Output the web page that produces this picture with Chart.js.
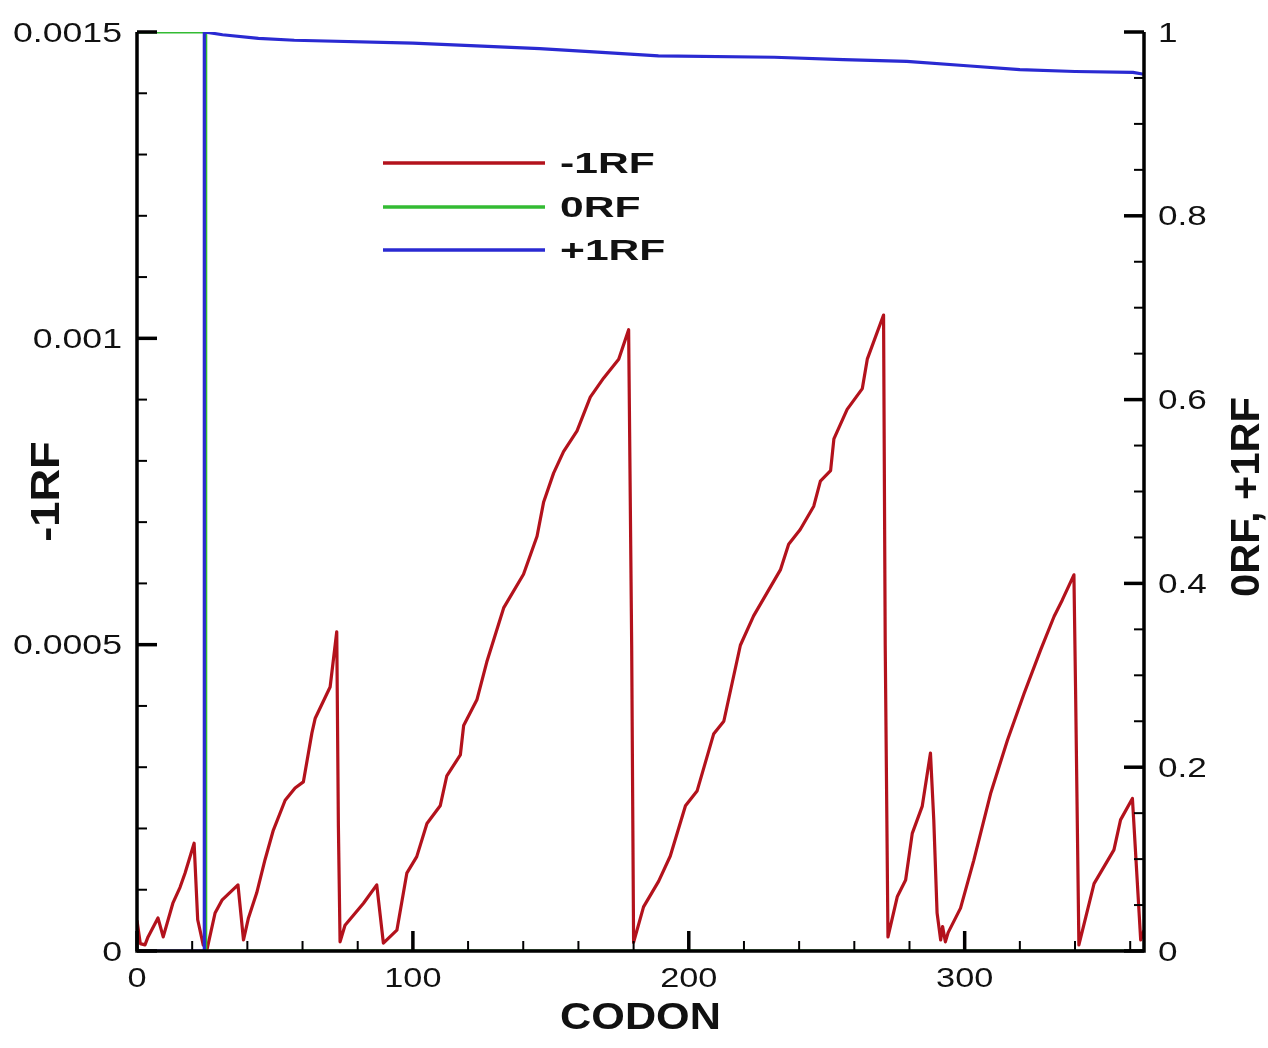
<!DOCTYPE html>
<html>
<head>
<meta charset="utf-8">
<title>CODON</title>
<script src="https://cdn.jsdelivr.net/npm/chart.js@4/dist/chart.umd.min.js"></script>
<style>
    html, body { margin: 0; padding: 0; background: #ffffff; }
    #contenedor { width: 1268px; height: 1048px; position: relative; }
</style>
</head>
<body>
<div id="contenedor"><canvas id="grafico"></canvas></div>
<script>
// Datos (codon, valor)
const codonMenos1 = [0, 1.2, 2.9, 4, 7.6, 9.5, 13, 15.6, 17.4, 20.7, 22, 24, 25.4, 28.3, 30.8, 36.6, 38.6, 40.4, 43.4, 46.4,
    49.4, 53.7, 57.3, 60.3, 63.4, 64.6, 70, 72.4, 73, 73.6, 75.4, 82.1, 86.9, 89.3, 94.2, 97.8, 101.4, 105.1, 109.9, 112.3,
    117.2, 118.4, 123.2, 126.8, 132.9, 140.1, 145, 147.4, 151, 154.6, 159.5, 164.3, 169.1, 174.6, 178.2, 179.3, 180, 183.6,
    189.1, 193.3, 198.8, 203, 209, 212.7, 218.7, 223.5, 233.2, 236.2, 240.4, 245.3, 247.7, 251.4, 252.6, 257.4, 262.9, 264.7,
    270.6, 271.2, 272.2, 275.6, 278.6, 281, 284.6, 287.6, 288.8, 290, 291.3, 292, 293, 294, 298.5, 303.3, 309.4, 315.5,
    321.5, 327.5, 332.4, 335.4, 339.6, 340.2, 341.4, 346.9, 354.1, 356.5, 360.8, 363.8, 365];
const valorMenos1 = [0.000050, 0.000012, 0.000010, 0.000023, 0.000054, 0.000023, 0.000078, 0.000104, 0.000127, 0.000176,
    0.000051, 0.000010, 0.000003, 0.000062, 0.000083, 0.000108, 0.000018, 0.000054, 0.000095, 0.000149,
    0.000197, 0.000246, 0.000266, 0.000276, 0.000356, 0.000380, 0.000431, 0.000521, 0.000203, 0.000015,
    0.000042, 0.000078, 0.000108, 0.000013, 0.000034, 0.000127, 0.000154, 0.000208, 0.000237, 0.000286,
    0.000320, 0.000368, 0.000410, 0.000472, 0.000560, 0.000615, 0.000677, 0.000733, 0.000780, 0.000815,
    0.000849, 0.000904, 0.000935, 0.000966, 0.001014, 0.000500, 0.000014, 0.000072, 0.000114, 0.000155,
    0.000237, 0.000261, 0.000354, 0.000375, 0.000499, 0.000547, 0.000622, 0.000664, 0.000688, 0.000726,
    0.000767, 0.000784, 0.000836, 0.000884, 0.000918, 0.000966, 0.001038, 0.000500, 0.000023, 0.000089,
    0.000116, 0.000192, 0.000236, 0.000323, 0.000214, 0.000062, 0.000018, 0.000040, 0.000015, 0.000030,
    0.000070, 0.000148, 0.000257, 0.000344, 0.000420, 0.000491, 0.000546, 0.000573, 0.000614, 0.000426,
    0.000010, 0.000110, 0.000165, 0.000214, 0.000249, 0.000018, 0.000034];

const codonCero = [0, 24.8, 24.9, 365];
const valorCero = [1, 1, 0, 0];

const codonMas1 = [0, 24.3, 24.4, 31, 44, 57, 100, 146, 167, 189, 231, 256, 279, 302, 320, 340, 361, 365];
const valorMas1 = [0, 0, 1, 0.997, 0.993, 0.991, 0.988, 0.982, 0.978, 0.974, 0.9725, 0.970, 0.968, 0.963, 0.959, 0.957, 0.956, 0.954];

const nombresSeries = ['-1RF', '0RF', '+1RF'];
const ticksCodon = [0, 100, 200, 300];
const etiquetasCodon = ['0', '100', '200', '300'];
const ticksIzq = [0, 0.0005, 0.001, 0.0015];
const etiquetasIzq = ['0', '0.0005', '0.001', '0.0015'];
const ticksDer = [0, 0.2, 0.4, 0.6, 0.8, 1];
const etiquetasDer = ['0', '0.2', '0.4', '0.6', '0.8', '1'];

const colores = ['#b3121c', '#33bb33', '#2a2ad2'];

function puntos(xs, ys) {
    return xs.map((x, i) => ({ x: x, y: ys[i] }));
}

// texto estirado en horizontal, como en la figura original
function texto(ctx, cadena, x, y, fuente, estiro, alinear, rotar) {
    ctx.save();
    ctx.font = fuente;
    ctx.fillStyle = '#111';
    ctx.textAlign = alinear || 'center';
    ctx.textBaseline = 'alphabetic';
    ctx.translate(x, y);
    if (rotar) ctx.rotate(rotar);
    ctx.scale(estiro, 1);
    const alto = ctx.measureText('0').actualBoundingBoxAscent || 0;
    ctx.fillText(cadena, 0, alto / 2);
    ctx.restore();
}

function linea(ctx, x1, y1, x2, y2, ancho, color) {
    ctx.beginPath();
    ctx.lineWidth = ancho;
    ctx.strokeStyle = color || '#000';
    ctx.moveTo(x1, y1);
    ctx.lineTo(x2, y2);
    ctx.stroke();
}

const marcoYTextos = {
    id: 'marcoYTextos',
    afterDraw(chart) {
        const ctx = chart.ctx;
        const a = chart.chartArea;
        const ex = chart.scales.x;
        const eIzq = chart.scales.yIzq;
        const eDer = chart.scales.yDer;
        ctx.save();
        ctx.lineCap = 'butt';

        // marcas menores
        for (let v = 0; v <= 365; v += 20) {
            if (v % 100 === 0) continue;
            const px = ex.getPixelForValue(v);
            linea(ctx, px, a.bottom, px, a.bottom - 10, 2);
        }
        for (let i = 0; i <= 15; i++) {
            if (i % 5 === 0) continue;
            const py = eIzq.getPixelForValue(i * 0.0001);
            linea(ctx, a.left, py, a.left + 10, py, 2);
        }
        for (let i = 0; i <= 20; i++) {
            if (i % 4 === 0) continue;
            const py = eDer.getPixelForValue(i * 0.05);
            linea(ctx, a.right, py, a.right - 10, py, 2);
        }

        // marcas mayores y etiquetas
        const fuenteTick = '27px "Liberation Sans", Arial, sans-serif';
        ticksCodon.forEach((v, i) => {
            const px = ex.getPixelForValue(v);
            linea(ctx, px, a.bottom, px, a.bottom - 20, 3.5);
            texto(ctx, etiquetasCodon[i], px, a.bottom + 26, fuenteTick, 1.27, 'center');
        });
        ticksIzq.forEach((v, i) => {
            const py = eIzq.getPixelForValue(v);
            linea(ctx, a.left, py, a.left + 20, py, 3.5);
            texto(ctx, etiquetasIzq[i], a.left - 15, py, fuenteTick, 1.32, 'right');
        });
        ticksDer.forEach((v, i) => {
            const py = eDer.getPixelForValue(v);
            linea(ctx, a.right, py, a.right - 20, py, 3.5);
            texto(ctx, etiquetasDer[i], a.right + 14, py, fuenteTick, 1.3, 'left');
        });

        // marco: izquierda, abajo, derecha
        ctx.beginPath();
        ctx.lineWidth = 3.5;
        ctx.strokeStyle = '#000';
        ctx.lineJoin = 'miter';
        ctx.moveTo(a.left, a.top);
        ctx.lineTo(a.left, a.bottom);
        ctx.lineTo(a.right, a.bottom);
        ctx.lineTo(a.right, a.top);
        ctx.stroke();

        // titulos de ejes
        const fuenteTitulo = 'bold 36px "Liberation Sans", Arial, sans-serif';
        texto(ctx, 'CODON', (a.left + a.right) / 2, 1016, fuenteTitulo, 1.2, 'center');
        texto(ctx, '-1RF', 45, (a.top + a.bottom) / 2, 'bold 40px "Liberation Sans", Arial, sans-serif', 1.13, 'center', -Math.PI / 2);
        texto(ctx, '0RF, +1RF', 1245, 497, 'bold 40px "Liberation Sans", Arial, sans-serif', 1.04, 'center', -Math.PI / 2);

        // leyenda
        const filas = [163, 207, 250];
        nombresSeries.forEach((nombre, i) => {
            linea(ctx, 383, filas[i], 545, filas[i], 3.5, colores[i]);
            texto(ctx, nombre, 560, filas[i], 'bold 30px "Liberation Sans", Arial, sans-serif', 1.42, 'left');
        });
        ctx.restore();
    }
};

function crearGrafico() {
    const lienzo = document.getElementById('grafico');
    new Chart(lienzo, {
        type: 'line',
        data: {
            datasets: [
                { label: nombresSeries[0], data: puntos(codonMenos1, valorMenos1), yAxisID: 'yIzq', borderColor: colores[0], order: 3 },
                { label: nombresSeries[1], data: puntos(codonCero, valorCero), yAxisID: 'yDer', borderColor: colores[1], order: 2 },
                { label: nombresSeries[2], data: puntos(codonMas1, valorMas1), yAxisID: 'yDer', borderColor: colores[2], order: 1 }
            ]
        },
        options: {
            responsive: true,
            maintainAspectRatio: false,
            animation: false,
            layout: { padding: { top: 32, left: 0, right: 0, bottom: 0 } },
            elements: {
                point: { radius: 0 },
                line: { tension: 0, borderWidth: 3.2, borderJoinStyle: 'round', fill: false }
            },
            plugins: { legend: { display: false }, tooltip: { enabled: false } },
            scales: {
                x: {
                    type: 'linear', min: 0, max: 365,
                    grid: { display: false }, border: { display: false }, ticks: { display: false },
                    afterBuildTicks: s => { s.ticks = ticksCodon.map(v => ({ value: v })); },
                    afterFit: s => { s.height = 97; }
                },
                yIzq: {
                    type: 'linear', position: 'left', min: 0, max: 0.0015,
                    grid: { display: false }, border: { display: false }, ticks: { display: false },
                    afterBuildTicks: s => { s.ticks = ticksIzq.map(v => ({ value: v })); },
                    afterFit: s => { s.width = 137; }
                },
                yDer: {
                    type: 'linear', position: 'right', min: 0, max: 1,
                    grid: { display: false }, border: { display: false }, ticks: { display: false },
                    afterBuildTicks: s => { s.ticks = ticksDer.map(v => ({ value: v })); },
                    afterFit: s => { s.width = 124; }
                }
            }
        },
        plugins: [marcoYTextos]
    });
}

crearGrafico();
</script>
</body>
</html>
